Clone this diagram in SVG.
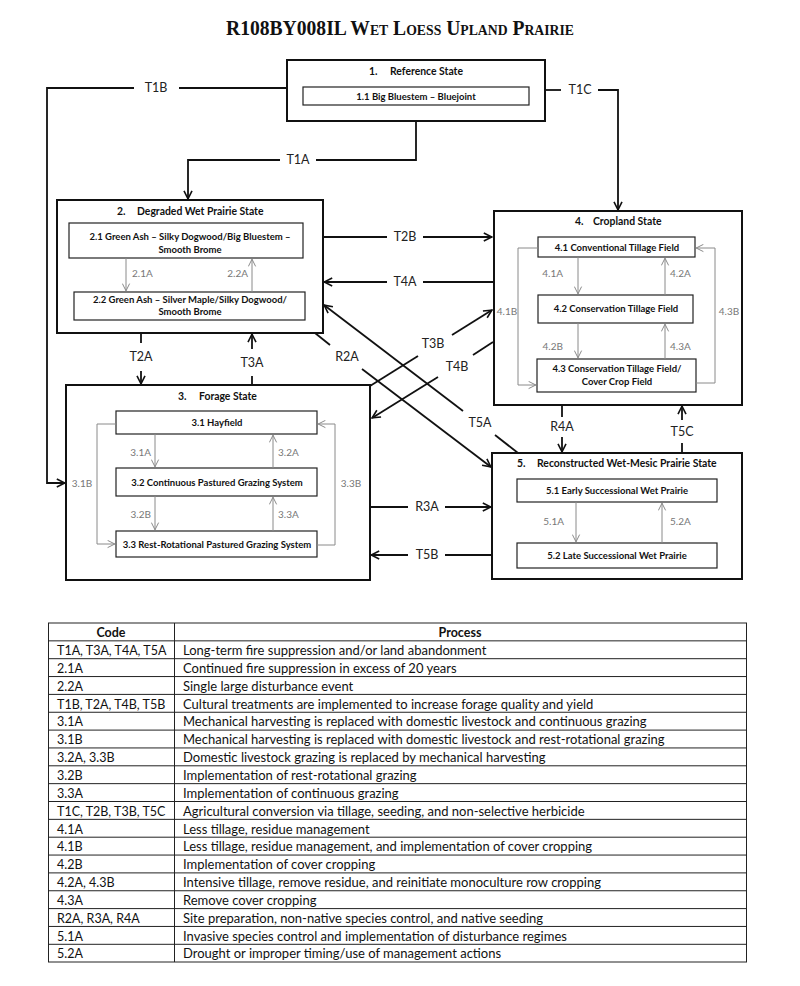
<svg xmlns="http://www.w3.org/2000/svg" width="800" height="986" viewBox="0 0 800 986">
<defs>
<style>
.bg{fill:#fff}
.outer{fill:#fff;stroke:#111;stroke-width:2}
.inner{fill:#fff;stroke:#222;stroke-width:1.2}
.con{fill:none;stroke:#111;stroke-width:1.8}
.gcon{fill:none;stroke:#8a8a8a;stroke-width:1}
.st{font-family:Lato,"Liberation Sans",sans-serif;font-weight:bold;font-size:10.4px;fill:#111}
.bx{font-family:Lato,"Liberation Sans",sans-serif;font-weight:bold;font-size:9.5px;fill:#111;text-anchor:middle}
.tl{font-family:Lato,"Liberation Sans",sans-serif;font-size:12.5px;fill:#222;text-anchor:middle}
.gl{font-family:Lato,"Liberation Sans",sans-serif;font-size:10px;fill:#777}
.tc{font-family:Lato,"Liberation Sans",sans-serif;font-size:12.5px;fill:#111}
.tp{font-family:Lato,"Liberation Sans",sans-serif;font-size:13px;fill:#111}
.th{font-family:Lato,"Liberation Sans",sans-serif;font-size:12.5px;font-weight:bold;fill:#111;text-anchor:middle}
.tline{stroke:#222;stroke-width:1;fill:none}
</style>
<marker id="ah" viewBox="0 0 10 10" refX="9.2" refY="5" markerWidth="10" markerHeight="10" markerUnits="userSpaceOnUse" orient="auto">
<path d="M1,1 L9,5 L1,9" fill="none" stroke="#111" stroke-width="1.6"/>
</marker>
<marker id="gah" viewBox="0 0 10 10" refX="9.2" refY="5" markerWidth="9" markerHeight="9" markerUnits="userSpaceOnUse" orient="auto">
<path d="M1,1 L9,5 L1,9" fill="none" stroke="#8a8a8a" stroke-width="1.1"/>
</marker>
</defs>
<rect class="bg" x="0" y="0" width="800" height="986"/>

<text x="400" y="35" text-anchor="middle" font-family="'Liberation Serif','Times New Roman',serif" font-weight="bold" font-size="20" font-variant="small-caps" textLength="348" lengthAdjust="spacingAndGlyphs" fill="#111">R108BY008IL Wet Loess Upland Prairie</text>

<g id="connectors">
<!-- T1A -->
<path class="con" d="M416,121 V160 H316"/>
<path class="con" d="M280,160 H188 V199" marker-end="url(#ah)"/>
<!-- T1B -->
<path class="con" d="M287,88 H179"/>
<path class="con" d="M134,88 H47 V483 H65" marker-end="url(#ah)"/>
<!-- T1C -->
<path class="con" d="M545,90 H561"/>
<path class="con" d="M598,90 H618 V210" marker-end="url(#ah)"/>
<!-- T2B -->
<path class="con" d="M323,237 H387"/>
<path class="con" d="M423,237 H492" marker-end="url(#ah)"/>
<!-- T4A -->
<path class="con" d="M494,282 H423"/>
<path class="con" d="M387,282 H324" marker-end="url(#ah)"/>
<!-- T2A -->
<path class="con" d="M141,333 V343"/>
<path class="con" d="M141,371 V384" marker-end="url(#ah)"/>
<!-- T3A -->
<path class="con" d="M252,385 V376"/>
<path class="con" d="M252,349 V334" marker-end="url(#ah)"/>
<!-- R3A -->
<path class="con" d="M370,507 H408"/>
<path class="con" d="M445,507 H491" marker-end="url(#ah)"/>
<!-- T5B -->
<path class="con" d="M492,555 H445"/>
<path class="con" d="M408,555 H371" marker-end="url(#ah)"/>
<!-- R4A -->
<path class="con" d="M562,405 V417"/>
<path class="con" d="M562,437 V452" marker-end="url(#ah)"/>
<!-- T5C -->
<path class="con" d="M682,453 V443"/>
<path class="con" d="M682,420 V406" marker-end="url(#ah)"/>
<!-- T3B -->
<path class="con" d="M370,386 L418,356"/>
<path class="con" d="M452,335 L492,310" marker-end="url(#ah)"/>
<!-- T4B -->
<path class="con" d="M493,342 L473,355"/>
<path class="con" d="M438,377 L372,418" marker-end="url(#ah)"/>
<!-- T5A -->
<path class="con" d="M518,453 L495,435"/>
<path class="con" d="M463,411 L324,305" marker-end="url(#ah)"/>
<!-- R2A -->
<path class="con" d="M315,333 L330,345"/>
<path class="con" d="M362,369 L491,467" marker-end="url(#ah)"/>

<text class="tl" x="298" y="164">T1A</text>
<text class="tl" x="156" y="92">T1B</text>
<text class="tl" x="580" y="94">T1C</text>
<text class="tl" x="405" y="241">T2B</text>
<text class="tl" x="405" y="286">T4A</text>
<text class="tl" x="141" y="361">T2A</text>
<text class="tl" x="252" y="367">T3A</text>
<text class="tl" x="427" y="511">R3A</text>
<text class="tl" x="427" y="559">T5B</text>
<text class="tl" x="562" y="431">R4A</text>
<text class="tl" x="682" y="436">T5C</text>
<text class="tl" x="433" y="348">T3B</text>
<text class="tl" x="457" y="371">T4B</text>
<text class="tl" x="480" y="427">T5A</text>
<text class="tl" x="347" y="361">R2A</text>
</g>

<g id="state1">
<rect class="outer" x="287" y="60" width="258" height="61"/>
<text class="st" x="369" y="75">1.<tspan x="390">Reference State</tspan></text>
<rect class="inner" x="303" y="87" width="226" height="18"/>
<text class="bx" x="416" y="99.5">1.1 Big Bluestem – Bluejoint</text>
</g>

<g id="state2">
<rect class="outer" x="57" y="200" width="266" height="133"/>
<text class="st" x="117" y="215">2.<tspan x="137">Degraded Wet Prairie State</tspan></text>
<rect class="inner" x="69" y="223" width="234" height="35"/>
<text class="bx" x="190" y="240">2.1  Green Ash – Silky Dogwood/Big Bluestem –</text>
<text class="bx" x="190" y="253">Smooth Brome</text>
<rect class="inner" x="74" y="292" width="231" height="28"/>
<text class="bx" x="190" y="303">2.2  Green Ash – Silver Maple/Silky Dogwood/</text>
<text class="bx" x="190" y="315">Smooth Brome</text>
<path class="gcon" d="M126,258 V291" marker-end="url(#gah)"/>
<path class="gcon" d="M252,292 V259" marker-end="url(#gah)"/>
<text class="gl" x="132" y="277">2.1A</text>
<text class="gl" x="248" y="277" text-anchor="end">2.2A</text>
</g>

<g id="state3">
<rect class="outer" x="66" y="385" width="304" height="195"/>
<text class="st" x="178" y="400">3.<tspan x="199">Forage State</tspan></text>
<rect class="inner" x="116" y="411" width="201" height="23"/>
<text class="bx" x="217" y="426">3.1 Hayfield</text>
<rect class="inner" x="116" y="468" width="201" height="28"/>
<text class="bx" x="217" y="485.5">3.2 Continuous Pastured Grazing System</text>
<rect class="inner" x="116" y="531" width="201" height="26"/>
<text class="bx" x="217" y="547.5">3.3 Rest-Rotational Pastured Grazing System</text>
<path class="gcon" d="M155,434 V467" marker-end="url(#gah)"/>
<path class="gcon" d="M273,468 V435" marker-end="url(#gah)"/>
<path class="gcon" d="M155,496 V530" marker-end="url(#gah)"/>
<path class="gcon" d="M273,531 V497" marker-end="url(#gah)"/>
<path class="gcon" d="M116,424 H97 V544 H115" marker-end="url(#gah)"/>
<path class="gcon" d="M317,545 H335 V424 H318" marker-end="url(#gah)"/>
<text class="gl" x="151" y="456" text-anchor="end">3.1A</text>
<text class="gl" x="278" y="456">3.2A</text>
<text class="gl" x="151" y="518" text-anchor="end">3.2B</text>
<text class="gl" x="278" y="518">3.3A</text>
<text class="gl" x="82" y="487" text-anchor="middle">3.1B</text>
<text class="gl" x="351" y="487" text-anchor="middle">3.3B</text>
</g>

<g id="state4">
<rect class="outer" x="494" y="211" width="248" height="194"/>
<text class="st" x="575" y="225">4.<tspan x="593">Cropland State</tspan></text>
<rect class="inner" x="538" y="237" width="157" height="20"/>
<text class="bx" x="617" y="251">4.1 Conventional Tillage Field</text>
<rect class="inner" x="538" y="295" width="155" height="28"/>
<text class="bx" x="616" y="312">4.2 Conservation Tillage Field</text>
<rect class="inner" x="537" y="359" width="159" height="33"/>
<text class="bx" x="617" y="372">4.3 Conservation Tillage Field/</text>
<text class="bx" x="617" y="384.5">Cover Crop Field</text>
<path class="gcon" d="M578,257 V294" marker-end="url(#gah)"/>
<path class="gcon" d="M665,295 V258" marker-end="url(#gah)"/>
<path class="gcon" d="M578,323 V358" marker-end="url(#gah)"/>
<path class="gcon" d="M665,359 V324" marker-end="url(#gah)"/>
<path class="gcon" d="M538,248 H518 V385 H536" marker-end="url(#gah)"/>
<path class="gcon" d="M696,383 H715 V248 H696" marker-end="url(#gah)"/>
<text class="gl" x="563" y="277" text-anchor="end">4.1A</text>
<text class="gl" x="670" y="277">4.2A</text>
<text class="gl" x="563" y="350" text-anchor="end">4.2B</text>
<text class="gl" x="670" y="350">4.3A</text>
<text class="gl" x="507" y="315" text-anchor="middle">4.1B</text>
<text class="gl" x="729" y="315" text-anchor="middle">4.3B</text>
</g>

<g id="state5">
<rect class="outer" x="492" y="453" width="250" height="126"/>
<text class="st" x="517" y="467">5.<tspan x="537">Reconstructed Wet-Mesic Prairie State</tspan></text>
<rect class="inner" x="517" y="479" width="200" height="23"/>
<text class="bx" x="617" y="494">5.1 Early Successional Wet Prairie</text>
<rect class="inner" x="517" y="543" width="200" height="25"/>
<text class="bx" x="617" y="559">5.2 Late Successional Wet Prairie</text>
<path class="gcon" d="M576,502 V542" marker-end="url(#gah)"/>
<path class="gcon" d="M662,543 V503" marker-end="url(#gah)"/>
<text class="gl" x="564" y="525" text-anchor="end">5.1A</text>
<text class="gl" x="670" y="525">5.2A</text>
</g>

<g id="table">
<rect class="tline" x="48.5" y="623" width="698" height="339"/>
<path class="tline" d="M174.5,623 V962"/>
<path class="tline" d="M48.5,640.85 H746.5 M48.5,658.7 H746.5 M48.5,676.55 H746.5 M48.5,694.4 H746.5 M48.5,712.25 H746.5 M48.5,730.1 H746.5 M48.5,747.95 H746.5 M48.5,765.8 H746.5 M48.5,783.65 H746.5 M48.5,801.5 H746.5 M48.5,819.35 H746.5 M48.5,837.2 H746.5 M48.5,855.05 H746.5 M48.5,872.9 H746.5 M48.5,890.75 H746.5 M48.5,908.6 H746.5 M48.5,926.45 H746.5 M48.5,944.3 H746.5"/>
<text class="th" x="111" y="637">Code</text>
<text class="th" x="460" y="637">Process</text>
<text class="tc" x="57" y="655">T1A, T3A, T4A, T5A</text><text class="tp" x="183" y="655">Long-term fire suppression and/or land abandonment</text>
<text class="tc" x="57" y="672.85">2.1A</text><text class="tp" x="183" y="672.85">Continued fire suppression in excess of 20 years</text>
<text class="tc" x="57" y="690.7">2.2A</text><text class="tp" x="183" y="690.7">Single large disturbance event</text>
<text class="tc" x="57" y="708.55">T1B, T2A, T4B, T5B</text><text class="tp" x="183" y="708.55">Cultural treatments are implemented to increase forage quality and yield</text>
<text class="tc" x="57" y="726.4">3.1A</text><text class="tp" x="183" y="726.4">Mechanical harvesting is replaced with domestic livestock and continuous grazing</text>
<text class="tc" x="57" y="744.25">3.1B</text><text class="tp" x="183" y="744.25">Mechanical harvesting is replaced with domestic livestock and rest-rotational grazing</text>
<text class="tc" x="57" y="762.1">3.2A, 3.3B</text><text class="tp" x="183" y="762.1">Domestic livestock grazing is replaced by mechanical harvesting</text>
<text class="tc" x="57" y="779.95">3.2B</text><text class="tp" x="183" y="779.95">Implementation of rest-rotational grazing</text>
<text class="tc" x="57" y="797.8">3.3A</text><text class="tp" x="183" y="797.8">Implementation of continuous grazing</text>
<text class="tc" x="57" y="815.65">T1C, T2B, T3B, T5C</text><text class="tp" x="183" y="815.65">Agricultural conversion via tillage, seeding, and non-selective herbicide</text>
<text class="tc" x="57" y="833.5">4.1A</text><text class="tp" x="183" y="833.5">Less tillage, residue management</text>
<text class="tc" x="57" y="851.35">4.1B</text><text class="tp" x="183" y="851.35">Less tillage, residue management, and implementation of cover cropping</text>
<text class="tc" x="57" y="869.2">4.2B</text><text class="tp" x="183" y="869.2">Implementation of cover cropping</text>
<text class="tc" x="57" y="887.05">4.2A, 4.3B</text><text class="tp" x="183" y="887.05">Intensive tillage, remove residue, and reinitiate monoculture row cropping</text>
<text class="tc" x="57" y="904.9">4.3A</text><text class="tp" x="183" y="904.9">Remove cover cropping</text>
<text class="tc" x="57" y="922.75">R2A, R3A, R4A</text><text class="tp" x="183" y="922.75">Site preparation, non-native species control, and native seeding</text>
<text class="tc" x="57" y="940.6">5.1A</text><text class="tp" x="183" y="940.6">Invasive species control and implementation of disturbance regimes</text>
<text class="tc" x="57" y="958.45">5.2A</text><text class="tp" x="183" y="958.45">Drought or improper timing/use of management actions</text>
</g>
</svg>
